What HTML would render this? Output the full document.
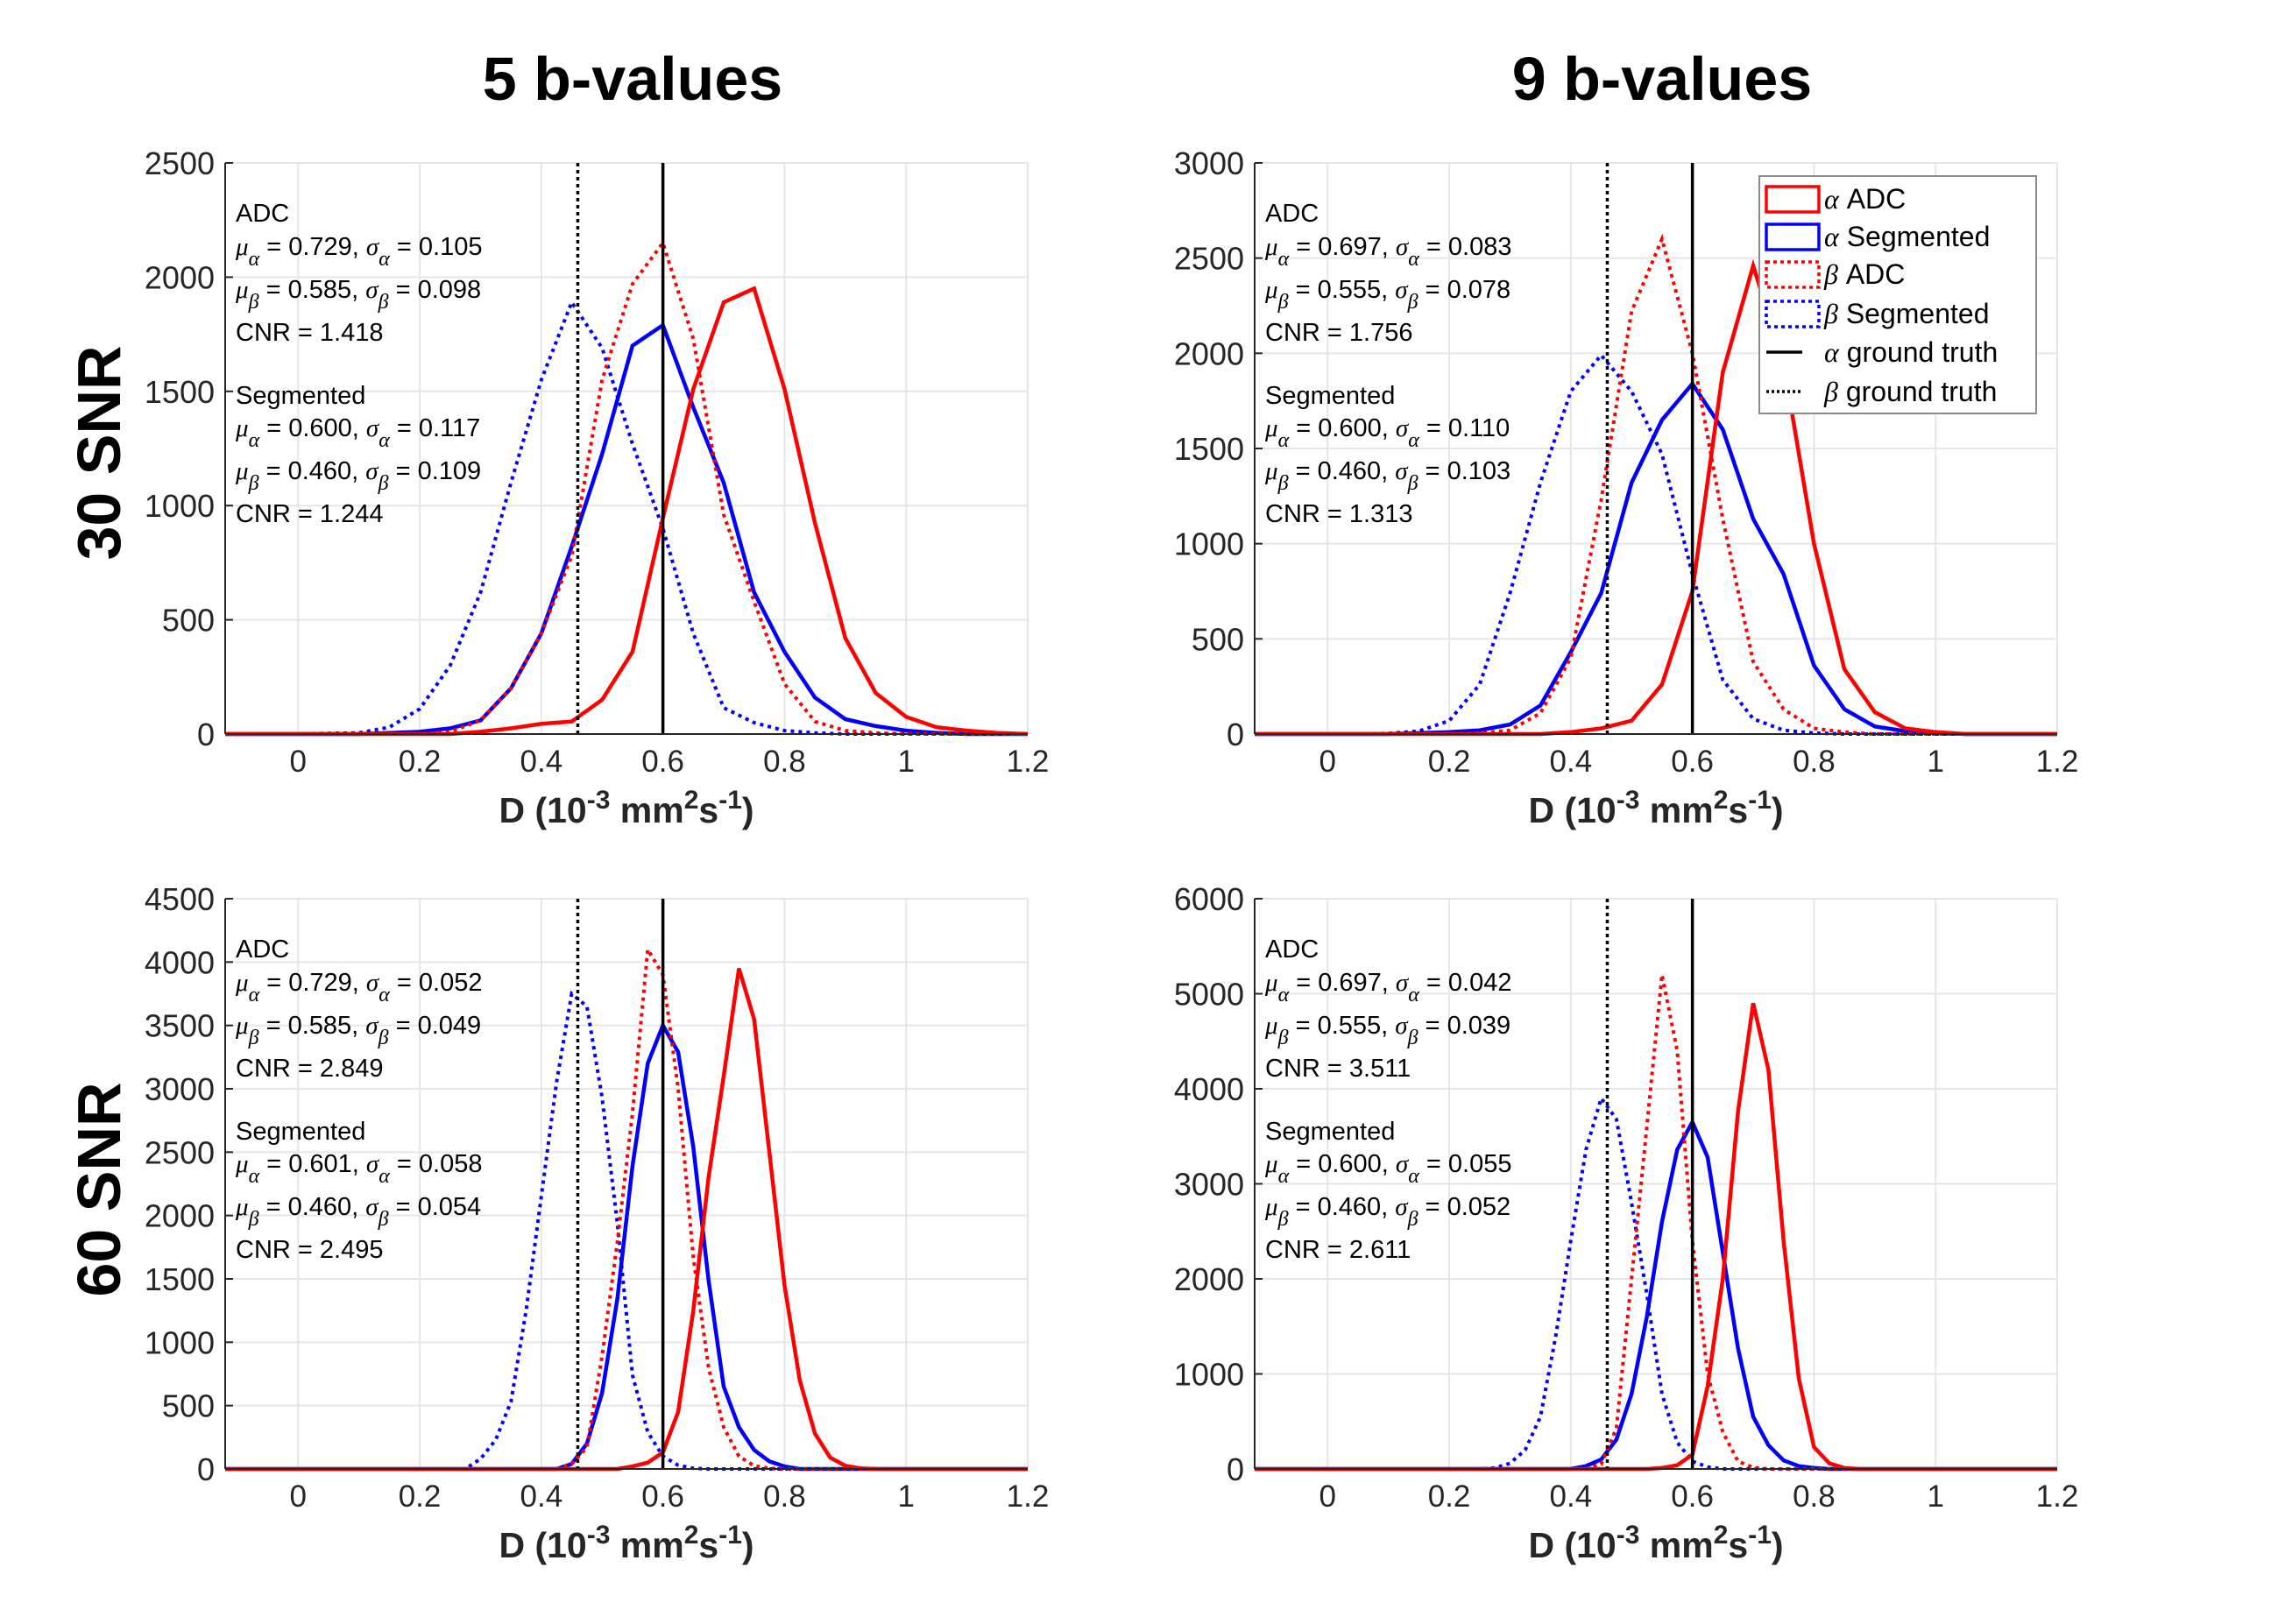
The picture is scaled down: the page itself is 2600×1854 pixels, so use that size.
<!DOCTYPE html>
<html><head><meta charset="utf-8"><style>
html,body{margin:0;padding:0;background:#fff;}
svg{display:block;font-family:"Liberation Sans",Arial,sans-serif;}
</style></head><body>
<svg id="fig" width="2600" height="1854" viewBox="0 0 2600 1854" xmlns="http://www.w3.org/2000/svg">
<rect width="2600" height="1854" fill="#fff"/>
<text x="722" y="114" font-size="70" font-weight="bold" text-anchor="middle" fill="#000">5 b-values</text>
<text x="1897" y="114" font-size="70" font-weight="bold" text-anchor="middle" fill="#000">9 b-values</text>
<text transform="translate(137,517) rotate(-90)" font-size="70" font-weight="bold" text-anchor="middle" fill="#000">30 SNR</text>
<text transform="translate(137,1358) rotate(-90)" font-size="70" font-weight="bold" text-anchor="middle" fill="#000">60 SNR</text>
<g id="panels"></g>
</svg>
<script>
// ---- data (counts per bin; each series: start bin center, bin width, counts) ----
const xTicks = [0, 0.2, 0.4, 0.6, 0.8, 1, 1.2];
const xTickLabels = ["0", "0.2", "0.4", "0.6", "0.8", "1", "1.2"];
const xLim = [-0.12, 1.2];
const alphaTruth = 0.6;
const betaTruth = 0.46;

const p1YTicks = [0, 500, 1000, 1500, 2000, 2500];
const p2YTicks = [0, 500, 1000, 1500, 2000, 2500, 3000];
const p3YTicks = [0, 500, 1000, 1500, 2000, 2500, 3000, 3500, 4000, 4500];
const p4YTicks = [0, 1000, 2000, 3000, 4000, 5000, 6000];

const p1AdcAlpha = [10, 25, 45, 55, 150, 360, 945, 1510, 1890, 1950, 1510, 925, 420, 180, 75, 30, 15, 5];
const p1AdcBeta  = [10, 60, 200, 440, 780, 1550, 1970, 2150, 1730, 960, 580, 220, 55, 15, 5];
const p1SegAlpha = [5, 10, 25, 60, 200, 440, 820, 1225, 1700, 1790, 1430, 1100, 620, 360, 160, 65, 35, 15, 5];
const p1SegBeta  = [3, 5, 30, 110, 300, 620, 1100, 1550, 1890, 1690, 1270, 900, 440, 115, 50, 15, 5];

const p2AdcAlpha = [10, 30, 70, 260, 750, 1900, 2460, 1950, 1000, 340, 115, 30, 10];
const p2AdcBeta  = [5, 20, 110, 400, 1230, 2220, 2600, 2000, 1130, 380, 130, 30, 10];
const p2SegAlpha = [5, 10, 20, 50, 150, 430, 740, 1320, 1650, 1840, 1600, 1130, 840, 360, 130, 40, 15, 5];
const p2SegBeta  = [3, 15, 70, 260, 740, 1320, 1800, 1990, 1800, 1470, 840, 285, 80, 20, 5];

const p3AdcAlpha = [20, 50, 130, 450, 1250, 2300, 3100, 3950, 3550, 2500, 1450, 700, 280, 90, 25, 5];
const p3AdcBeta  = [40, 170, 890, 1790, 2810, 4100, 3900, 3000, 1670, 800, 330, 100, 25, 5];
const p3SegAlpha = [40, 200, 600, 1340, 2390, 3200, 3500, 3290, 2540, 1490, 650, 330, 150, 60, 20];
const p3SegBeta  = [80, 230, 530, 1250, 2150, 3050, 3750, 3650, 2930, 1940, 740, 290, 100, 30, 5];

const p4AdcAlpha = [10, 40, 150, 870, 2000, 3760, 4900, 4200, 2400, 950, 230, 60, 10];
const p4AdcBeta  = [50, 430, 2000, 3600, 5200, 4400, 2400, 1000, 390, 80, 15];
const p4SegAlpha = [30, 100, 310, 790, 1600, 2600, 3360, 3650, 3280, 2280, 1270, 550, 250, 90, 30, 10];
const p4SegBeta  = [10, 60, 200, 550, 1390, 2400, 3360, 3900, 3680, 2800, 1840, 790, 280, 80, 20];

const p1Stats = ["0.729","0.105","0.585","0.098","1.418","0.600","0.117","0.460","0.109","1.244"];
const p2Stats = ["0.697","0.083","0.555","0.078","1.756","0.600","0.110","0.460","0.103","1.313"];
const p3Stats = ["0.729","0.052","0.585","0.049","2.849","0.601","0.058","0.460","0.054","2.495"];
const p4Stats = ["0.697","0.042","0.555","0.039","3.511","0.600","0.055","0.460","0.052","2.611"];

const NS = "http://www.w3.org/2000/svg";
function mk(tag, attrs, parent){
  const e = document.createElementNS(NS, tag);
  for (const k in attrs) e.setAttribute(k, attrs[k]);
  if (parent) parent.appendChild(e);
  return e;
}
const root = document.getElementById('panels');

function panel(id, L, R, T, B, yTicks, series, stats, legend){
  const g = mk('g', {}, root);
  
  
  const yMax = yTicks[yTicks.length-1];
  const sx = v => L + (v - xLim[0]) / (xLim[1] - xLim[0]) * (R - L);
  const sy = v => B - v / yMax * (B - T);
  xTicks.forEach(t => { const l = mk('line', {x1:sx(t), x2:sx(t), y1:T, y2:B, stroke:'#e6e6e6', 'stroke-width':2}, g);
      });
  yTicks.forEach(t => { const l = mk('line', {x1:L, x2:R, y1:sy(t), y2:sy(t), stroke:'#e6e6e6', 'stroke-width':2}, g);
      });
  series.forEach(s => {
    let pts = [[sx(xLim[0]) , sy(0)], [sx(s.start - s.step), sy(0)]];
    s.counts.forEach((c, i) => pts.push([sx(s.start + i * s.step), sy(c)]));
    pts.push([sx(s.start + s.counts.length * s.step), sy(0)]);
    pts.push([sx(xLim[1]), sy(0)]);
    const p = mk('polyline', {points: pts.map(p => p[0].toFixed(1)+','+p[1].toFixed(1)).join(' '), fill:'none', stroke:s.color, 'stroke-width': s.dot ? 4 : 4.5, 'stroke-dasharray': s.dot ? '4,5' : 'none', 'stroke-linejoin':'miter'}, g);
    
    
  });
  const a = mk('line', {x1:sx(alphaTruth), x2:sx(alphaTruth), y1:T, y2:B, stroke:'#000', 'stroke-width':3.5}, g);
   
  const b = mk('line', {x1:sx(betaTruth), x2:sx(betaTruth), y1:T, y2:B, stroke:'#000', 'stroke-width':3.5, 'stroke-dasharray':'4,4'}, g);
   
  const ya = mk('line', {x1:L, x2:L, y1:T, y2:B, stroke:'#262626', 'stroke-width':2}, g);
   
  const xa = mk('line', {x1:L, x2:R, y1:B, y2:B, stroke:'#262626', 'stroke-width':2}, g);
   
  yTicks.forEach(t => {
    mk('line', {x1:L, x2:L+9, y1:sy(t), y2:sy(t), stroke:'#262626', 'stroke-width':2}, g);
    const tx = mk('text', {x:L-12, y:sy(t)+13, 'font-size':36, 'text-anchor':'end', fill:'#262626'}, g);
    tx.textContent = t;
     
  });
  xTicks.forEach((t, i) => {
    const tx = mk('text', {x:sx(t), y:B+43, 'font-size':35, 'text-anchor':'middle', fill:'#262626'}, g);
    tx.textContent = xTickLabels[i];
     
  });
  const xl = mk('text', {x:(L+R)/2, y:B+101, 'font-size':41, 'font-weight':'bold', 'text-anchor':'middle', fill:'#262626'}, g);
  xl.innerHTML = 'D (10<tspan dy="-16" font-size="30">-3</tspan><tspan dy="16"> mm</tspan><tspan dy="-16" font-size="30">2</tspan><tspan dy="16">s</tspan><tspan dy="-16" font-size="30">-1</tspan><tspan dy="16">)</tspan>';
   
  const tx0 = L + 12;
  const lines = [
    ['ADC', 0], ['a', 1, stats[0], stats[1]], ['b', 2, stats[2], stats[3]], ['CNR = ' + stats[4], 3],
    ['Segmented', 4], ['a', 5, stats[5], stats[6]], ['b', 6, stats[7], stats[8]], ['CNR = ' + stats[9], 7]];
  const ys = [253, 291, 340, 389, 461, 498, 547, 596];
  const off = T - 186;
  lines.forEach((ln, i) => {
    const t = mk('text', {x:tx0, y:ys[i] + off, 'font-size':29, fill:'#000'}, g);
    if (ln[0] === 'a' || ln[0] === 'b') {
      const sub = ln[0] === 'a' ? 'α' : 'β';
      t.innerHTML = '<tspan font-family="Liberation Serif" font-style="italic">μ</tspan><tspan dy="12" font-family="Liberation Serif" font-style="italic" font-size="24">' + sub + '</tspan><tspan dy="-12"> = ' + ln[2] + ', </tspan><tspan font-family="Liberation Serif" font-style="italic">σ</tspan><tspan dy="12" font-family="Liberation Serif" font-style="italic" font-size="24">' + sub + '</tspan><tspan dy="-12"> = ' + ln[3] + '</tspan>';
    } else t.textContent = ln[0];
     
  });
  if (legend) {
    const lg = mk('g', {}, g);
     
    mk('rect', {x:2008, y:201, width:316, height:271, fill:'#fff', stroke:'#8c8c8c', 'stroke-width':2}, lg);
    const ent = [['red',0,'α','ADC'],['blue',0,'α','Segmented'],['red',1,'β','ADC'],['blue',1,'β','Segmented'],['#000',2,'α','ground truth'],['#000',3,'β','ground truth']];
    const ey = [227, 270, 313, 358, 402, 447];
    ent.forEach((e, i) => {
      const eg = mk('g', {}, lg);
       
      if (e[1] < 2) mk('rect', {x:2016, y:ey[i]-14, width:60, height:29, fill:'none', stroke:e[0], 'stroke-width':3.5, 'stroke-dasharray': e[1] ? '4,4' : 'none'}, eg);
      else mk('line', {x1:2016, x2:2057, y1:ey[i], y2:ey[i], stroke:'#000', 'stroke-width':3.5, 'stroke-dasharray': e[1]===3 ? '3,3' : 'none'}, eg);
      const t = mk('text', {x: 2082, y:ey[i]+11, 'font-size':32, fill:'#000'}, eg);
      t.innerHTML = '<tspan font-family="Liberation Serif" font-style="italic">' + e[2] + '</tspan> ' + e[3];
    });
  }
}
function S(name, color, dot, start, step, counts){ return {name, color, dot, start, step, counts}; }

panel('panel-5b-30snr', 257, 1173, 186, 838, p1YTicks, [
  S('beta-segmented-hist','blue',1,0.05,0.05,p1SegBeta), S('alpha-segmented-hist','blue',0,0.15,0.05,p1SegAlpha),
  S('beta-adc-hist','red',1,0.25,0.05,p1AdcBeta), S('alpha-adc-hist','red',0,0.30,0.05,p1AdcAlpha)], p1Stats, false);
panel('panel-9b-30snr', 1432, 2348, 186, 838, p2YTicks, [
  S('beta-segmented-hist','blue',1,0.10,0.05,p2SegBeta), S('alpha-segmented-hist','blue',0,0.15,0.05,p2SegAlpha),
  S('beta-adc-hist','red',1,0.25,0.05,p2AdcBeta), S('alpha-adc-hist','red',0,0.40,0.05,p2AdcAlpha)], p2Stats, true);
panel('panel-5b-60snr', 257, 1173, 1026, 1677, p3YTicks, [
  S('beta-segmented-hist','blue',1,0.30,0.025,p3SegBeta), S('alpha-segmented-hist','blue',0,0.45,0.025,p3SegAlpha),
  S('beta-adc-hist','red',1,0.45,0.025,p3AdcBeta), S('alpha-adc-hist','red',0,0.55,0.025,p3AdcAlpha)], p3Stats, false);
panel('panel-9b-60snr', 1432, 2348, 1026, 1677, p4YTicks, [
  S('beta-segmented-hist','blue',1,0.275,0.025,p4SegBeta), S('alpha-segmented-hist','blue',0,0.425,0.025,p4SegAlpha),
  S('beta-adc-hist','red',1,0.45,0.025,p4AdcBeta), S('alpha-adc-hist','red',0,0.55,0.025,p4AdcAlpha)], p4Stats, false);
</script>
</body></html>
